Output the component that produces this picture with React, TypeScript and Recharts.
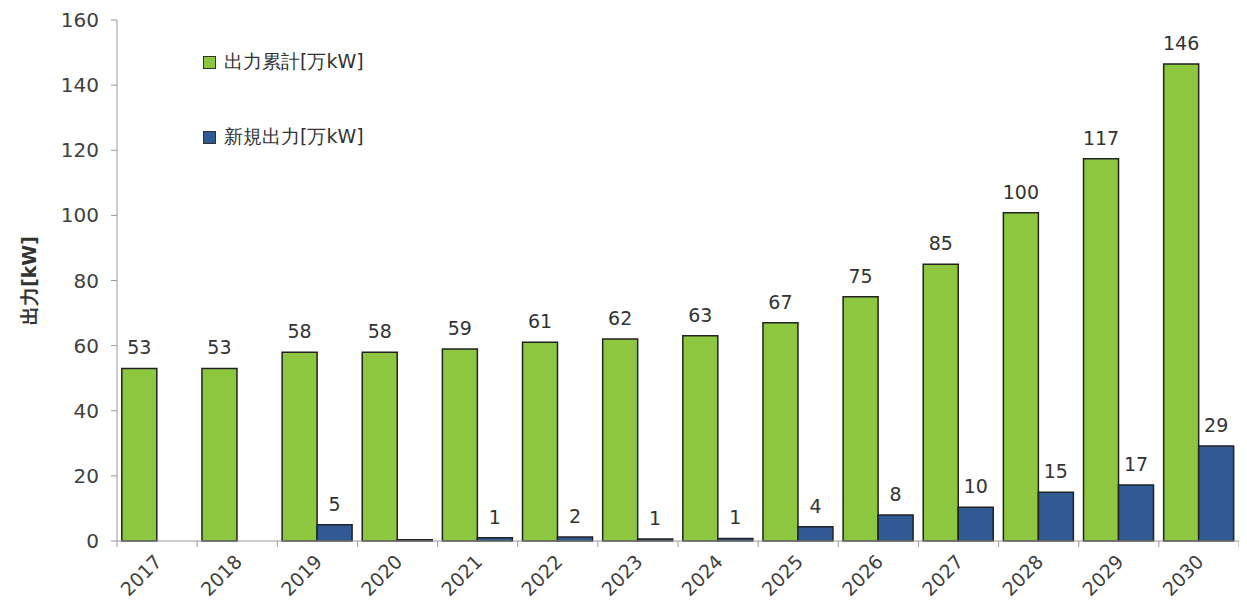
import React from 'react';
import { BarChart, Bar, XAxis, YAxis, LabelList } from 'recharts';

const years = ['2017', '2018', '2019', '2020', '2021', '2022', '2023', '2024', '2025', '2026', '2027', '2028', '2029', '2030'];
const cumulative = [53, 53, 58, 58, 59, 61, 62, 63, 67, 75, 85, 100.8, 117.4, 146.5];
const newOutput: (number | null)[] = [null, null, 5, 0.4, 1, 1.2, 0.6, 0.8, 4.4, 8, 10.4, 15, 17.2, 29.2];
const cumLabels = [53, 53, 58, 58, 59, 61, 62, 63, 67, 75, 85, 100, 117, 146];
const newLabels: (number | null)[] = [null, null, 5, null, 1, 2, 1, 1, 4, 8, 10, 15, 17, 29];
const yTicks = [0, 20, 40, 60, 80, 100, 120, 140, 160];

const data = years.map((y, i) => ({
  year: y,
  cum: cumulative[i],
  add: newOutput[i],
  cumLabel: cumLabels[i],
  addLabel: newLabels[i],
}));

const GREEN = '#8dc63f';
const BLUE = '#2f5a94';
const FONT = '"DejaVu Sans", Verdana, sans-serif';

const XTick = (props: any) => {
  const { x, y, payload, index } = props;
  const off = payload.offset || 40;
  return (
    <g>
      <line x1={x - off} x2={x - off} y1={y - 8} y2={y - 2} stroke="#999" />
      {index === years.length - 1 && (
        <line x1={x + off} x2={x + off} y1={y - 8} y2={y - 2} stroke="#999" />
      )}
      <text
        x={x + 6}
        y={y + 14}
        textAnchor="end"
        transform={`rotate(-45, ${x + 6}, ${y + 14})`}
        fontSize={19}
        fill="#404040"
        fontFamily={FONT}
      >
        {payload.value}
      </text>
    </g>
  );
};

const ValueLabel = (props: any) => {
  const { x, y, width, value } = props;
  if (value == null) return null;
  return (
    <text x={x + width / 2} y={y - 14} textAnchor="middle" fontSize={19} fill="#333" fontFamily={FONT}>
      {value}
    </text>
  );
};

const LegendBox = () => (
  <div style={{ position: 'absolute', left: 195, top: 42, fontFamily: FONT, fontSize: 19, color: '#333' }}>
    <div style={{ display: 'flex', alignItems: 'center', height: 24 }}>
      <span style={{ width: 13, height: 13, background: GREEN, border: '1.5px solid #333', marginRight: 8, boxSizing: 'border-box' }} />
      出力累計[万kW]
    </div>
    <div style={{ display: 'flex', alignItems: 'center', height: 24, marginTop: 51 }}>
      <span style={{ width: 13, height: 13, background: BLUE, border: '1.5px solid #333', marginRight: 8, boxSizing: 'border-box' }} />
      新規出力[万kW]
    </div>
  </div>
);

export default function App() {
  return (
    <div style={{ position: 'relative', width: 1239, height: 599, background: '#fff' }}>
      <BarChart
        width={1239}
        height={599}
        data={data}
        margin={{ top: 12, right: 8, left: 49, bottom: 6 }}
        barCategoryGap="6%"
        barGap={0}
      >
        <XAxis
          dataKey="year"
          stroke="#999"
          tickLine={false}
          interval={0}
          height={60}
          tick={<XTick />}
        />
        <YAxis
          domain={[0, 160]}
          ticks={yTicks}
          width={60}
          stroke="#999"
          tickSize={6}
          tickMargin={12}
          tick={{ fontSize: 20, fill: '#404040', fontFamily: FONT }}
          label={{
            value: '出力[kW]',
            angle: -90,
            position: 'insideLeft',
            offset: -28,
            style: { fontSize: 19, fontWeight: 'bold', fill: '#333', fontFamily: FONT, textAnchor: 'middle' },
          }}
        />
        <Bar dataKey="cum" fill={GREEN} stroke="#222" strokeWidth={1.5} isAnimationActive={false}>
          <LabelList dataKey="cumLabel" content={<ValueLabel />} />
        </Bar>
        <Bar dataKey="add" fill={BLUE} stroke="#222" strokeWidth={1.5} isAnimationActive={false}>
          <LabelList dataKey="addLabel" content={<ValueLabel />} />
        </Bar>
      </BarChart>
      <LegendBox />
    </div>
  );
}
